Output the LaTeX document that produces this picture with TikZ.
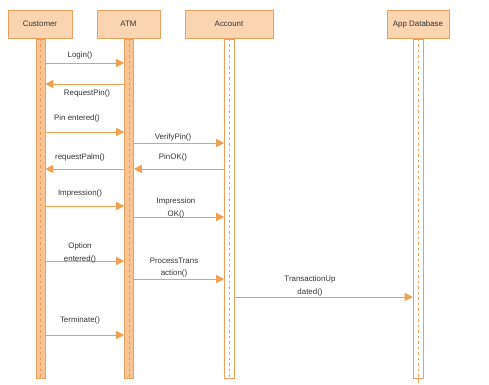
\documentclass[tikz,border=0pt]{standalone}
\usepackage{fontspec}
\setmainfont{Liberation Sans}
\usetikzlibrary{arrows.meta,calc}
\definecolor{boxfill}{HTML}{FBD5B2}
\definecolor{boxline}{HTML}{E9A25E}
\definecolor{msgcol}{HTML}{F0A050}
\definecolor{barfill}{HTML}{F9C493}
\definecolor{dashcol}{HTML}{E9A25E}
\definecolor{paledash}{HTML}{E49A58}
\tikzset{
  head/.style={draw=boxline, fill=boxfill, line width=0.8pt, inner sep=0pt, minimum height=28pt, font=\fontsize{7.9}{9}\selectfont, text=black!80},
  filledbar/.style={draw=boxline, fill=barfill, line width=0.6pt, inner sep=0pt, minimum width=9pt, minimum height=339pt},
  emptybar/.style={draw=boxline, fill=white, line width=0.6pt, inner sep=0pt, minimum width=10pt, minimum height=339pt},
  lifedash/.style={draw=dashcol, line width=0.6pt, dash pattern=on 2.5pt off 3pt},
  lightdash/.style={draw=paledash, line width=0.4pt, dash pattern=on 2.5pt off 3pt},
  msg/.style={draw=msgcol, line width=0.7pt, -{Triangle[length=8pt,width=8pt]}},
  lbl/.style={font=\fontsize{7.9}{12.5}\selectfont, align=center, inner sep=0pt, text=black!80},
}
\begin{document}
\begin{tikzpicture}[x=1pt,y=-1pt]
\useasboundingbox (0,0) rectangle (489,384);
% headers
\node[head, minimum width=64pt] (cust) at (40,24) {Customer};
\node[head, minimum width=63pt] (atm) at (128.5,24) {ATM};
\node[head, minimum width=88pt] (acc) at (229,24) {Account};
\node[head, minimum width=62pt] (db) at (418,24) {App Database};
% lifeline bars
\node[filledbar] (cbar) at (40.5,208.5) {};
\node[filledbar] (abar) at (129,208.5) {};
\node[emptybar] (xbar) at (229.5,208.5) {};
\node[emptybar] (dbar) at (418,208.5) {};
\coordinate (dbend) at (418,383);
\draw[boxline, line width=0.6pt] (dbar.south) -- (dbend);
\draw[lightdash] (cbar.north) -- (cbar.south);
\draw[lightdash] (abar.north) -- (abar.south);
\draw[lifedash] (xbar.north) -- (xbar.south);
\draw[lifedash] (dbar.north) -- (dbar.south);
% messages
\draw[msg] (cbar.east |- 0,63) -- (abar.west |- 0,63);
\node[lbl] (l1) at (80,55) {Login()};
\draw[msg] (abar.west |- 0,84) -- (cbar.east |- 0,84);
\node[lbl] (l2) at (87,93) {RequestPin()};
\draw[msg] (cbar.east |- 0,132) -- (abar.west |- 0,132);
\node[lbl] (l3) at (77,118) {Pin entered()};
\draw[msg] (abar.east |- 0,143) -- (xbar.west |- 0,143);
\node[lbl] (l4) at (173,137) {VerifyPin()};
\draw[msg] (xbar.west |- 0,169) -- (abar.east |- 0,169);
\node[lbl] (l5) at (173,157) {PinOK()};
\draw[msg] (abar.west |- 0,169) -- (cbar.east |- 0,169);
\node[lbl] (l6) at (80,157) {requestPalm()};
\draw[msg] (cbar.east |- 0,206) -- (abar.west |- 0,206);
\node[lbl] (l7) at (80,193) {Impression()};
\draw[msg] (abar.east |- 0,217) -- (xbar.west |- 0,217);
\node[lbl] (l8) at (176,208) {Impression\\OK()};
\draw[msg] (cbar.east |- 0,261) -- (abar.west |- 0,261);
\node[lbl] (l9) at (80,253) {Option\\entered()};
\draw[msg] (abar.east |- 0,279) -- (xbar.west |- 0,279);
\node[lbl] (l10) at (174,267.5) {ProcessTrans\\action()};
\draw[msg] (xbar.east |- 0,297) -- (dbar.west |- 0,297);
\node[lbl] (l11) at (310,286) {TransactionUp\\dated()};
\draw[msg] (cbar.east |- 0,335) -- (abar.west |- 0,335);
\node[lbl] (l12) at (80,320) {Terminate()};
\end{tikzpicture}
\end{document}
